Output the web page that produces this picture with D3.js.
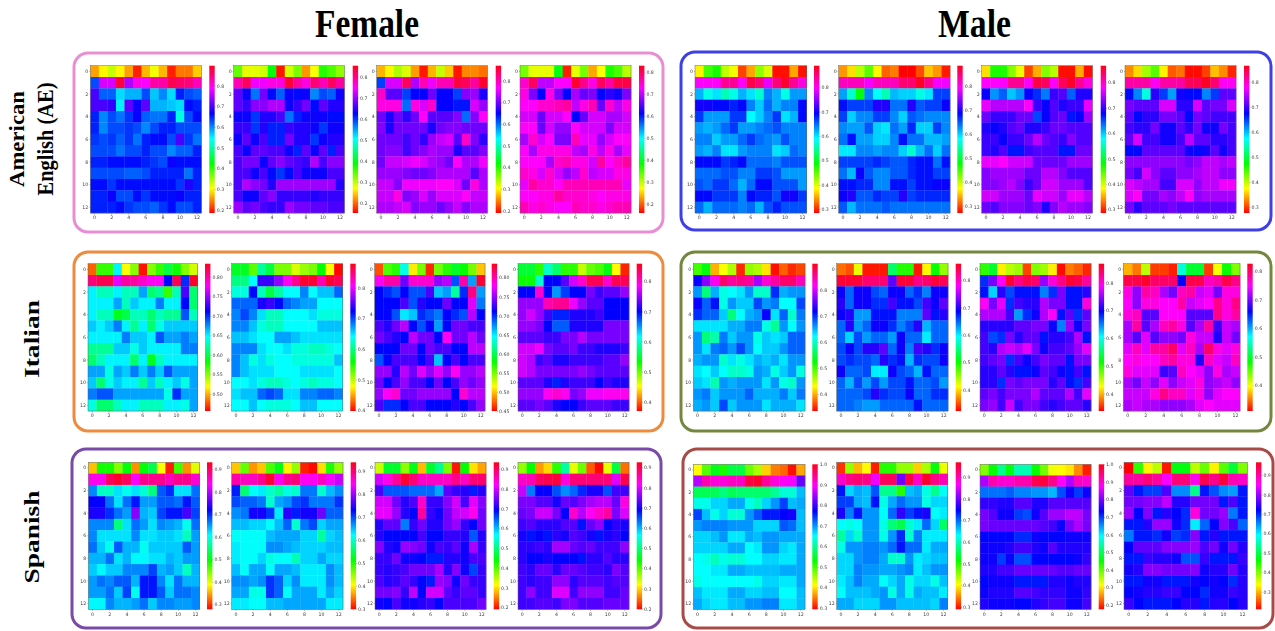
<!DOCTYPE html>
<html>
<head>
<meta charset="utf-8">
<script src="https://cdnjs.cloudflare.com/ajax/libs/d3/7.8.5/d3.min.js"></script>
<style>
  body { margin: 0; background: #fff; }
  #wrapper { width: 1275px; height: 631px; overflow: hidden; }
  svg { display: block; }
</style>
</head>
<body>
<div id="wrapper"></div>
<script>
// cell values (13 rows x 13 columns)
const aeF1 = [
[.26,.30,.33,.30,.26,.20,.27,.31,.27,.20,.24,.24,.28],
[.63,.77,.77,.88,.75,.80,.79,.83,.83,.87,.86,.85,.82],
[.70,.62,.62,.56,.58,.58,.63,.57,.60,.56,.65,.63,.62],
[.70,.70,.69,.55,.71,.67,.71,.58,.58,.57,.56,.66,.65],
[.65,.60,.63,.61,.64,.67,.62,.61,.61,.65,.53,.63,.66],
[.65,.60,.63,.63,.64,.63,.60,.63,.65,.65,.63,.63,.63],
[.64,.63,.64,.62,.64,.61,.65,.66,.66,.63,.70,.64,.61],
[.63,.63,.63,.61,.63,.63,.65,.63,.63,.60,.62,.62,.65],
[.65,.65,.66,.66,.66,.66,.65,.64,.63,.67,.66,.66,.66],
[.63,.63,.63,.63,.62,.62,.63,.65,.65,.65,.65,.61,.65],
[.66,.66,.64,.66,.66,.66,.66,.66,.66,.66,.64,.68,.65],
[.65,.65,.67,.63,.63,.66,.64,.66,.66,.66,.67,.65,.65],
[.65,.65,.65,.66,.64,.63,.63,.62,.64,.66,.63,.63,.65]];
const aeF2 = [
[.34,.28,.28,.29,.39,.16,.29,.33,.22,.27,.37,.35,.32],
[.78,.82,.74,.74,.76,.76,.84,.79,.76,.81,.78,.82,.79],
[.67,.63,.57,.68,.62,.58,.63,.62,.63,.56,.59,.58,.63],
[.67,.65,.69,.69,.71,.71,.63,.65,.68,.62,.67,.64,.64],
[.63,.63,.60,.64,.64,.66,.57,.61,.63,.63,.63,.62,.62],
[.65,.65,.60,.64,.61,.61,.65,.64,.64,.63,.60,.63,.63],
[.63,.67,.63,.66,.61,.61,.68,.64,.64,.60,.63,.64,.64],
[.66,.63,.67,.67,.66,.66,.63,.61,.67,.63,.67,.61,.66],
[.66,.68,.68,.63,.67,.69,.67,.66,.65,.71,.66,.69,.69],
[.66,.66,.63,.66,.62,.60,.62,.66,.63,.63,.63,.66,.66],
[.66,.71,.69,.68,.64,.70,.70,.70,.70,.70,.70,.70,.64],
[.66,.63,.63,.67,.69,.65,.65,.65,.65,.64,.65,.65,.65],
[.70,.67,.68,.66,.65,.65,.70,.68,.68,.67,.67,.66,.66]];
const aeF3 = [
[.27,.30,.34,.32,.26,.20,.27,.33,.28,.20,.25,.25,.24],
[.62,.75,.75,.84,.73,.80,.76,.80,.80,.85,.84,.81,.86],
[.79,.69,.69,.62,.65,.65,.70,.65,.65,.62,.71,.72,.66],
[.78,.78,.78,.60,.78,.75,.79,.65,.65,.64,.64,.75,.72],
[.70,.66,.70,.67,.70,.77,.69,.69,.69,.71,.60,.71,.77],
[.71,.66,.70,.70,.70,.70,.66,.70,.71,.71,.70,.70,.70],
[.70,.70,.70,.68,.70,.67,.72,.74,.75,.69,.79,.71,.67],
[.70,.71,.71,.68,.70,.71,.73,.72,.72,.66,.69,.69,.71],
[.70,.74,.74,.75,.76,.75,.73,.72,.70,.77,.73,.73,.76],
[.72,.72,.72,.71,.70,.70,.71,.73,.73,.73,.73,.69,.73],
[.74,.74,.71,.76,.76,.76,.76,.77,.77,.75,.70,.78,.73],
[.74,.74,.78,.71,.72,.75,.72,.75,.75,.75,.77,.74,.74],
[.73,.73,.74,.75,.71,.72,.72,.70,.72,.74,.71,.73,.73]];
const aeF4 = [
[.33,.28,.28,.28,.39,.17,.28,.33,.23,.27,.37,.35,.30],
[.75,.80,.70,.70,.73,.73,.82,.78,.74,.80,.77,.81,.81],
[.74,.67,.61,.74,.67,.61,.69,.66,.67,.61,.63,.62,.67],
[.73,.73,.75,.75,.76,.77,.70,.74,.76,.66,.75,.70,.74],
[.71,.71,.66,.71,.71,.73,.61,.66,.71,.71,.69,.69,.71],
[.73,.73,.66,.71,.68,.68,.73,.71,.71,.71,.67,.71,.71],
[.69,.75,.71,.73,.67,.67,.76,.72,.72,.68,.71,.73,.73],
[.73,.69,.74,.74,.74,.74,.70,.69,.74,.70,.74,.69,.72],
[.73,.73,.73,.69,.75,.76,.74,.74,.71,.77,.73,.75,.77],
[.75,.74,.71,.75,.71,.68,.70,.75,.70,.71,.71,.74,.74],
[.72,.77,.75,.75,.73,.76,.76,.76,.76,.76,.76,.76,.72],
[.73,.73,.74,.74,.77,.75,.75,.75,.74,.73,.74,.74,.74],
[.76,.74,.75,.74,.73,.73,.76,.75,.75,.74,.75,.76,.76]];
const aeM1 = [
[.38,.46,.48,.41,.39,.31,.35,.43,.40,.29,.29,.35,.29],
[.80,.80,.80,.84,.84,.80,.87,.85,.79,.85,.88,.84,.81],
[.62,.58,.60,.56,.58,.62,.60,.57,.64,.62,.58,.63,.63],
[.70,.70,.69,.69,.68,.69,.64,.61,.65,.62,.64,.64,.69],
[.67,.63,.63,.63,.67,.67,.59,.61,.64,.67,.60,.62,.69],
[.63,.62,.63,.65,.67,.63,.63,.64,.65,.66,.64,.64,.64],
[.64,.64,.61,.63,.63,.65,.67,.65,.64,.63,.66,.64,.64],
[.63,.62,.64,.60,.60,.63,.64,.64,.64,.60,.61,.65,.64],
[.69,.69,.69,.67,.68,.69,.65,.65,.65,.64,.66,.66,.66],
[.65,.65,.65,.66,.66,.64,.64,.67,.67,.66,.63,.63,.63],
[.66,.65,.67,.67,.65,.62,.65,.69,.69,.66,.66,.66,.63],
[.69,.69,.67,.67,.67,.64,.69,.68,.68,.66,.70,.70,.67],
[.65,.62,.65,.65,.65,.64,.65,.62,.66,.68,.66,.66,.66]];
const aeM2 = [
[.33,.36,.40,.44,.37,.31,.32,.27,.27,.30,.35,.33,.28],
[.82,.82,.82,.79,.82,.82,.82,.85,.85,.88,.84,.79,.79],
[.62,.56,.48,.63,.58,.55,.61,.60,.60,.57,.59,.66,.66],
[.68,.66,.66,.66,.70,.70,.64,.64,.70,.65,.66,.66,.69],
[.66,.60,.63,.63,.66,.66,.63,.60,.65,.64,.63,.63,.63],
[.63,.62,.62,.65,.60,.59,.64,.62,.67,.60,.60,.66,.63],
[.64,.68,.62,.62,.60,.60,.63,.68,.64,.64,.61,.61,.62],
[.59,.59,.63,.63,.62,.63,.63,.60,.56,.61,.64,.60,.64],
[.66,.66,.66,.66,.67,.66,.65,.65,.67,.68,.68,.64,.68],
[.64,.61,.69,.65,.63,.63,.65,.65,.67,.68,.68,.66,.66],
[.68,.68,.67,.67,.63,.63,.68,.68,.66,.68,.68,.69,.69],
[.69,.70,.65,.65,.67,.66,.66,.70,.66,.67,.67,.67,.67],
[.65,.61,.64,.64,.64,.65,.64,.64,.64,.64,.64,.64,.64]];
const aeM3 = [
[.37,.47,.47,.43,.39,.31,.35,.43,.41,.29,.29,.35,.29],
[.78,.78,.78,.82,.82,.78,.85,.84,.78,.84,.86,.82,.79],
[.68,.62,.64,.60,.62,.68,.66,.63,.70,.71,.64,.69,.69],
[.77,.75,.75,.75,.75,.78,.70,.68,.71,.69,.70,.70,.77],
[.72,.70,.70,.70,.72,.72,.65,.68,.71,.72,.67,.68,.74],
[.69,.68,.69,.71,.72,.69,.69,.70,.72,.72,.71,.71,.71],
[.70,.70,.68,.70,.70,.72,.75,.72,.71,.70,.73,.71,.71],
[.70,.69,.71,.67,.67,.70,.71,.71,.71,.67,.67,.72,.72],
[.77,.77,.78,.76,.76,.76,.72,.72,.72,.72,.74,.74,.74],
[.73,.74,.74,.74,.74,.72,.72,.75,.75,.73,.71,.71,.71],
[.73,.73,.74,.75,.73,.70,.72,.76,.76,.74,.74,.74,.71],
[.76,.76,.74,.74,.74,.72,.77,.76,.76,.74,.77,.77,.75],
[.72,.71,.73,.73,.73,.72,.73,.69,.73,.75,.74,.74,.73]];
const aeM4 = [
[.33,.36,.41,.44,.37,.31,.32,.28,.28,.30,.35,.33,.29],
[.81,.81,.81,.78,.81,.81,.81,.84,.84,.86,.83,.78,.78],
[.67,.62,.56,.69,.65,.61,.68,.67,.67,.62,.65,.71,.71],
[.72,.71,.71,.71,.76,.76,.69,.69,.76,.71,.72,.72,.76],
[.71,.67,.69,.69,.72,.72,.71,.67,.72,.71,.70,.70,.70],
[.70,.69,.69,.72,.68,.68,.71,.69,.72,.68,.68,.72,.70],
[.71,.76,.70,.70,.68,.68,.70,.75,.71,.71,.69,.69,.70],
[.67,.67,.71,.71,.71,.71,.71,.68,.67,.68,.71,.68,.70],
[.73,.73,.73,.73,.73,.73,.73,.72,.73,.75,.75,.74,.75],
[.72,.70,.76,.73,.71,.71,.73,.73,.74,.75,.75,.73,.73],
[.76,.75,.74,.74,.70,.70,.76,.76,.73,.75,.75,.77,.77],
[.76,.78,.72,.72,.74,.73,.75,.78,.73,.74,.74,.74,.74],
[.72,.69,.71,.71,.71,.72,.71,.71,.71,.71,.71,.71,.71]];
const itF1 = [
[.48,.57,.57,.65,.52,.55,.46,.55,.57,.60,.58,.55,.53],
[.81,.82,.82,.77,.80,.80,.79,.78,.78,.71,.82,.70,.83],
[.65,.63,.63,.65,.63,.63,.67,.61,.62,.57,.63,.73,.61],
[.65,.65,.65,.67,.63,.66,.65,.65,.68,.65,.65,.71,.61],
[.65,.63,.63,.59,.60,.63,.63,.61,.63,.62,.62,.69,.63],
[.66,.65,.66,.68,.65,.62,.65,.61,.64,.66,.66,.66,.66],
[.65,.65,.65,.65,.68,.66,.66,.65,.69,.67,.67,.68,.67],
[.62,.62,.62,.66,.66,.64,.66,.65,.65,.65,.65,.68,.68],
[.61,.63,.65,.65,.65,.61,.65,.59,.63,.65,.65,.65,.65],
[.67,.67,.64,.67,.66,.68,.66,.68,.66,.69,.67,.67,.67],
[.66,.61,.64,.66,.65,.65,.62,.66,.63,.65,.66,.64,.67],
[.68,.69,.69,.67,.67,.67,.67,.67,.67,.64,.70,.67,.67],
[.64,.61,.61,.63,.65,.65,.63,.63,.63,.65,.65,.64,.67]];
const itF2 = [
[.57,.57,.53,.61,.58,.52,.52,.49,.51,.52,.56,.48,.40],
[.60,.60,.64,.74,.74,.77,.81,.84,.87,.87,.83,.87,.86],
[.63,.63,.72,.62,.58,.61,.64,.64,.68,.64,.66,.66,.69],
[.69,.69,.69,.73,.74,.72,.69,.68,.67,.67,.64,.64,.64],
[.68,.70,.68,.65,.62,.62,.64,.64,.64,.65,.63,.63,.63],
[.68,.68,.66,.63,.62,.62,.64,.64,.64,.64,.66,.66,.66],
[.66,.66,.65,.64,.64,.67,.67,.66,.65,.65,.65,.65,.65],
[.68,.68,.68,.65,.64,.64,.65,.63,.63,.62,.62,.63,.64],
[.68,.66,.63,.65,.63,.64,.64,.63,.63,.63,.63,.63,.66],
[.68,.66,.65,.65,.65,.64,.64,.64,.65,.65,.65,.65,.64],
[.64,.64,.65,.63,.62,.62,.63,.64,.63,.62,.63,.63,.64],
[.65,.66,.66,.69,.70,.69,.65,.65,.68,.68,.69,.69,.68],
[.64,.64,.66,.64,.63,.63,.63,.64,.66,.66,.64,.64,.64]];
const itF3 = [
[.47,.56,.57,.64,.51,.55,.46,.55,.57,.59,.58,.55,.50],
[.78,.80,.80,.74,.79,.79,.79,.75,.76,.69,.80,.67,.83],
[.71,.70,.69,.71,.69,.69,.73,.66,.67,.62,.70,.81,.67],
[.71,.71,.71,.73,.69,.72,.71,.71,.74,.71,.71,.77,.68],
[.71,.71,.69,.65,.66,.70,.69,.68,.71,.70,.69,.76,.71],
[.73,.72,.74,.76,.71,.69,.71,.67,.71,.74,.74,.73,.73],
[.74,.73,.72,.71,.76,.74,.74,.71,.78,.74,.74,.76,.74],
[.71,.71,.71,.74,.74,.71,.74,.73,.73,.71,.71,.76,.76],
[.69,.71,.73,.73,.73,.71,.73,.66,.71,.73,.71,.73,.73],
[.75,.75,.72,.76,.74,.77,.75,.77,.75,.78,.75,.75,.76],
[.74,.71,.73,.75,.73,.73,.71,.74,.71,.73,.75,.74,.75],
[.75,.78,.79,.74,.74,.75,.75,.75,.75,.71,.79,.76,.76],
[.73,.70,.70,.71,.73,.73,.71,.71,.71,.72,.71,.73,.75]];
const itF4 = [
[.55,.55,.52,.60,.57,.52,.52,.47,.50,.51,.54,.45,.38],
[.53,.53,.60,.70,.70,.73,.77,.80,.84,.84,.80,.84,.84],
[.70,.70,.80,.70,.65,.68,.70,.70,.74,.72,.73,.73,.75],
[.75,.75,.75,.81,.82,.82,.78,.75,.73,.73,.70,.70,.70],
[.75,.77,.75,.72,.69,.69,.71,.71,.71,.72,.70,.70,.70],
[.75,.75,.74,.70,.67,.67,.71,.71,.71,.71,.74,.74,.74],
[.73,.73,.73,.72,.72,.74,.74,.76,.74,.74,.74,.74,.74],
[.77,.77,.78,.74,.73,.73,.74,.72,.72,.71,.71,.71,.72],
[.77,.76,.72,.73,.71,.71,.72,.72,.72,.72,.73,.73,.75],
[.77,.76,.74,.74,.74,.74,.74,.75,.74,.73,.73,.73,.73],
[.73,.73,.73,.71,.69,.71,.72,.72,.72,.70,.72,.71,.71],
[.75,.75,.75,.79,.80,.79,.74,.75,.78,.78,.79,.79,.79],
[.73,.73,.74,.73,.71,.70,.70,.72,.73,.73,.73,.72,.72]];
const itM1 = [
[.50,.53,.40,.43,.46,.35,.47,.46,.42,.34,.37,.35,.36],
[.72,.77,.82,.87,.85,.86,.85,.78,.83,.85,.87,.87,.84],
[.66,.57,.65,.61,.62,.63,.66,.60,.60,.70,.65,.66,.66],
[.72,.68,.71,.61,.66,.64,.64,.69,.66,.67,.62,.62,.69],
[.70,.68,.68,.64,.57,.62,.65,.66,.72,.63,.68,.60,.67],
[.63,.63,.63,.63,.65,.65,.67,.67,.61,.58,.66,.62,.66],
[.66,.57,.59,.67,.64,.66,.66,.61,.64,.63,.64,.68,.68],
[.66,.63,.67,.68,.66,.69,.66,.62,.64,.64,.66,.68,.68],
[.65,.66,.66,.60,.63,.61,.63,.65,.64,.65,.63,.66,.66],
[.63,.62,.64,.62,.60,.60,.61,.66,.65,.61,.64,.66,.61],
[.64,.63,.59,.66,.65,.66,.66,.66,.63,.66,.61,.60,.66],
[.66,.67,.64,.66,.66,.66,.68,.65,.65,.65,.67,.64,.67],
[.65,.66,.64,.69,.64,.66,.66,.66,.63,.65,.65,.65,.63]];
const itM2 = [
[.36,.35,.42,.33,.33,.33,.54,.49,.49,.33,.41,.50,.45],
[.85,.85,.85,.83,.83,.83,.72,.85,.85,.82,.83,.85,.84],
[.69,.65,.69,.69,.66,.65,.69,.69,.65,.67,.64,.69,.69],
[.70,.65,.69,.69,.67,.67,.71,.68,.68,.66,.71,.69,.72],
[.69,.70,.63,.63,.68,.68,.68,.64,.64,.64,.72,.68,.70],
[.65,.70,.63,.65,.69,.69,.67,.64,.66,.70,.62,.65,.65],
[.65,.61,.66,.63,.65,.65,.63,.69,.65,.65,.60,.65,.65],
[.66,.69,.66,.70,.70,.72,.65,.69,.64,.71,.70,.67,.69],
[.66,.67,.66,.66,.65,.70,.67,.68,.62,.67,.66,.66,.69],
[.69,.65,.65,.66,.60,.60,.69,.66,.65,.62,.68,.65,.65],
[.65,.62,.66,.63,.66,.63,.66,.66,.68,.65,.65,.66,.63],
[.65,.65,.65,.66,.70,.67,.66,.66,.69,.65,.65,.67,.67],
[.65,.65,.64,.63,.63,.65,.65,.65,.65,.68,.65,.65,.65]];
const itM3 = [
[.50,.53,.42,.45,.46,.36,.47,.46,.42,.34,.38,.37,.35],
[.68,.74,.79,.86,.83,.85,.84,.75,.80,.83,.86,.85,.82],
[.69,.62,.71,.67,.69,.69,.69,.65,.68,.74,.69,.69,.71],
[.79,.74,.78,.68,.72,.71,.71,.76,.74,.74,.69,.69,.80],
[.76,.76,.76,.72,.64,.68,.70,.76,.79,.69,.73,.68,.73],
[.71,.71,.71,.71,.73,.73,.74,.74,.70,.65,.75,.70,.74],
[.72,.67,.68,.74,.71,.73,.73,.69,.71,.71,.72,.76,.69],
[.72,.71,.76,.77,.76,.78,.74,.70,.72,.72,.73,.75,.78],
[.72,.73,.74,.68,.72,.70,.72,.74,.73,.73,.69,.74,.74],
[.71,.71,.73,.71,.69,.69,.70,.73,.72,.70,.69,.72,.69],
[.71,.71,.68,.74,.73,.74,.74,.74,.71,.73,.69,.68,.72],
[.73,.74,.72,.74,.74,.74,.76,.73,.73,.73,.76,.72,.78],
[.74,.75,.72,.77,.72,.74,.74,.72,.71,.72,.73,.73,.71]];
const itM4 = [
[.37,.35,.42,.33,.33,.32,.56,.50,.50,.33,.40,.48,.44],
[.81,.81,.82,.80,.80,.80,.66,.81,.81,.77,.78,.81,.79],
[.76,.71,.78,.77,.72,.70,.77,.78,.73,.74,.70,.76,.76],
[.75,.71,.76,.76,.75,.75,.78,.73,.74,.75,.79,.76,.79],
[.76,.77,.69,.69,.75,.75,.75,.69,.69,.69,.79,.76,.78],
[.72,.78,.69,.72,.77,.78,.76,.69,.72,.78,.68,.73,.72],
[.72,.69,.74,.69,.71,.71,.70,.76,.73,.73,.67,.73,.70],
[.74,.77,.74,.78,.78,.80,.74,.77,.72,.80,.76,.74,.76],
[.75,.76,.75,.75,.77,.78,.76,.76,.67,.77,.74,.73,.77],
[.76,.74,.74,.74,.68,.69,.77,.75,.74,.71,.76,.72,.73],
[.72,.70,.73,.71,.74,.71,.73,.74,.76,.71,.72,.73,.71],
[.73,.73,.73,.76,.79,.77,.77,.74,.76,.71,.74,.75,.75],
[.72,.73,.72,.72,.71,.71,.71,.72,.74,.75,.74,.74,.74]];
const spF1 = [
[.36,.49,.49,.44,.50,.34,.50,.53,.39,.29,.47,.34,.40],
[.84,.84,.90,.92,.90,.83,.88,.88,.88,.86,.88,.88,.85],
[.66,.58,.58,.62,.60,.62,.59,.55,.68,.70,.62,.62,.67],
[.72,.72,.67,.62,.67,.71,.65,.65,.68,.68,.67,.71,.68],
[.73,.73,.70,.67,.65,.78,.64,.63,.69,.71,.71,.75,.69],
[.66,.66,.66,.55,.62,.67,.65,.62,.66,.65,.64,.60,.67],
[.66,.62,.62,.62,.62,.66,.62,.62,.63,.63,.62,.58,.65],
[.67,.63,.60,.68,.64,.64,.60,.63,.63,.63,.63,.68,.65],
[.64,.64,.67,.62,.64,.61,.61,.62,.62,.64,.63,.65,.65],
[.63,.61,.63,.63,.66,.66,.66,.69,.64,.65,.63,.58,.64],
[.65,.67,.66,.68,.68,.64,.71,.71,.66,.62,.67,.64,.64],
[.65,.65,.67,.63,.69,.60,.71,.71,.68,.63,.67,.67,.66],
[.61,.61,.66,.64,.64,.65,.67,.63,.66,.66,.65,.65,.66]];
const spF2 = [
[.38,.47,.36,.38,.48,.52,.40,.45,.31,.30,.39,.50,.45],
[.88,.87,.87,.89,.93,.85,.89,.90,.85,.85,.87,.84,.82],
[.72,.56,.62,.63,.60,.58,.61,.60,.68,.68,.60,.65,.67],
[.70,.69,.69,.68,.60,.66,.67,.70,.71,.68,.68,.68,.71],
[.67,.68,.74,.74,.71,.63,.75,.72,.74,.74,.78,.69,.69],
[.65,.65,.64,.64,.62,.65,.69,.60,.68,.70,.64,.66,.66],
[.62,.62,.62,.62,.65,.66,.66,.66,.64,.64,.58,.64,.65],
[.63,.62,.62,.62,.67,.67,.66,.65,.64,.64,.64,.65,.65],
[.63,.62,.62,.64,.61,.62,.62,.59,.64,.64,.66,.64,.64],
[.65,.62,.66,.66,.62,.66,.66,.65,.63,.63,.63,.67,.65],
[.67,.67,.66,.67,.71,.69,.64,.67,.63,.63,.63,.67,.65],
[.66,.66,.61,.61,.71,.69,.62,.66,.66,.66,.63,.66,.64],
[.63,.63,.62,.62,.65,.65,.66,.66,.66,.66,.66,.63,.63]];
const spF3 = [
[.34,.46,.46,.37,.45,.28,.46,.51,.38,.20,.44,.30,.27],
[.80,.83,.87,.92,.89,.85,.85,.85,.85,.88,.85,.89,.89],
[.73,.65,.65,.65,.64,.64,.64,.61,.74,.72,.71,.68,.71],
[.80,.80,.75,.71,.73,.85,.72,.72,.76,.80,.73,.81,.76],
[.81,.81,.77,.71,.69,.87,.72,.70,.75,.79,.80,.83,.75],
[.71,.74,.74,.63,.72,.75,.71,.71,.75,.77,.72,.69,.75],
[.71,.69,.69,.69,.69,.73,.69,.69,.72,.72,.71,.65,.71],
[.76,.71,.70,.77,.76,.75,.70,.73,.72,.74,.70,.78,.72],
[.72,.72,.75,.70,.70,.69,.68,.68,.71,.71,.70,.73,.73],
[.72,.71,.72,.73,.75,.75,.75,.78,.71,.76,.70,.66,.72],
[.73,.71,.72,.74,.72,.69,.68,.77,.76,.70,.75,.72,.72],
[.75,.75,.76,.72,.79,.69,.80,.80,.74,.72,.74,.74,.72],
[.70,.69,.73,.70,.70,.71,.72,.69,.73,.73,.73,.73,.75]];
const spF4 = [
[.37,.44,.27,.30,.42,.52,.33,.39,.24,.20,.33,.47,.25],
[.84,.85,.89,.90,.91,.83,.88,.88,.88,.88,.88,.80,.90],
[.79,.63,.69,.69,.65,.62,.64,.67,.70,.70,.65,.72,.72],
[.75,.75,.73,.73,.70,.74,.73,.75,.77,.78,.78,.74,.83],
[.74,.75,.79,.79,.75,.69,.84,.78,.82,.84,.86,.75,.80],
[.72,.73,.71,.71,.71,.73,.73,.68,.74,.76,.69,.71,.70],
[.70,.68,.69,.68,.71,.70,.73,.72,.70,.68,.70,.71,.69],
[.71,.71,.72,.71,.77,.77,.74,.73,.74,.72,.72,.72,.76],
[.71,.69,.69,.70,.69,.69,.69,.68,.71,.71,.73,.71,.71],
[.72,.71,.74,.74,.71,.74,.74,.73,.72,.72,.71,.75,.73],
[.72,.71,.72,.72,.76,.76,.71,.73,.73,.73,.72,.73,.73],
[.72,.76,.72,.72,.80,.80,.72,.76,.76,.76,.72,.72,.74],
[.72,.72,.73,.73,.72,.75,.75,.73,.73,.73,.74,.74,.74]];
const spM1 = [
[.41,.49,.54,.52,.56,.56,.48,.45,.39,.35,.34,.30,.37],
[.86,.93,.91,.91,.92,.92,.98,.99,.94,.91,.90,.89,.82],
[.57,.57,.57,.59,.57,.58,.58,.58,.58,.60,.63,.63,.68],
[.64,.64,.67,.67,.69,.69,.64,.62,.67,.70,.74,.68,.69],
[.74,.68,.64,.67,.63,.63,.70,.73,.76,.76,.77,.78,.68],
[.70,.71,.71,.71,.70,.70,.70,.67,.67,.67,.73,.72,.68],
[.67,.67,.68,.70,.66,.66,.69,.68,.70,.70,.69,.69,.69],
[.67,.67,.67,.67,.69,.69,.65,.66,.70,.70,.67,.66,.69],
[.65,.64,.62,.64,.63,.63,.65,.65,.67,.67,.66,.66,.69],
[.65,.65,.66,.66,.69,.69,.68,.68,.68,.68,.69,.69,.69],
[.64,.65,.65,.65,.65,.65,.65,.64,.67,.67,.66,.66,.69],
[.68,.66,.66,.66,.69,.69,.67,.67,.68,.68,.65,.65,.68],
[.69,.67,.66,.66,.68,.68,.70,.70,.71,.71,.66,.66,.68]];
const spM2 = [
[.31,.45,.37,.40,.30,.50,.50,.45,.45,.38,.44,.52,.41],
[.89,.92,.93,.92,.86,.94,.94,.80,.95,.89,.96,.92,.90],
[.74,.65,.67,.66,.71,.58,.58,.50,.66,.67,.62,.58,.63],
[.72,.72,.67,.66,.74,.62,.67,.70,.68,.68,.62,.65,.65],
[.76,.69,.74,.68,.68,.63,.70,.77,.72,.74,.76,.63,.64],
[.63,.62,.63,.68,.68,.62,.57,.55,.61,.64,.70,.65,.56],
[.59,.65,.61,.68,.68,.62,.68,.73,.61,.69,.64,.64,.64],
[.62,.68,.68,.69,.69,.68,.70,.74,.70,.70,.64,.67,.67],
[.65,.65,.68,.69,.69,.67,.61,.61,.68,.64,.65,.66,.66],
[.65,.65,.69,.68,.68,.67,.67,.68,.69,.64,.66,.68,.68],
[.64,.66,.69,.67,.67,.63,.65,.67,.62,.65,.65,.62,.66],
[.63,.66,.66,.66,.67,.68,.62,.67,.62,.67,.66,.66,.64],
[.67,.67,.65,.65,.65,.68,.68,.66,.66,.66,.66,.65,.69]];
const spM3 = [
[.38,.45,.53,.46,.55,.55,.45,.39,.32,.31,.30,.25,.19],
[.83,.92,.90,.90,.92,.92,.97,.98,.94,.88,.83,.91,.90],
[.67,.67,.67,.68,.66,.66,.65,.65,.63,.69,.74,.70,.74],
[.76,.76,.75,.75,.78,.78,.75,.75,.78,.78,.78,.78,.78],
[.80,.78,.74,.74,.70,.69,.74,.78,.82,.82,.84,.84,.80],
[.80,.79,.79,.79,.79,.79,.79,.78,.77,.74,.80,.83,.80],
[.73,.73,.73,.73,.71,.71,.74,.73,.73,.73,.74,.74,.74],
[.74,.74,.74,.75,.77,.77,.75,.74,.78,.75,.75,.75,.75],
[.74,.74,.70,.74,.69,.69,.73,.73,.73,.73,.73,.74,.76],
[.75,.75,.77,.77,.79,.79,.79,.79,.79,.78,.78,.79,.79],
[.73,.74,.74,.74,.72,.72,.72,.72,.75,.75,.74,.75,.75],
[.74,.75,.75,.75,.78,.78,.77,.76,.76,.76,.74,.74,.76],
[.75,.74,.74,.74,.73,.73,.75,.76,.77,.77,.74,.74,.77]];
const spM4 = [
[.21,.44,.33,.37,.22,.47,.47,.37,.41,.33,.42,.49,.40],
[.90,.90,.92,.90,.85,.92,.92,.86,.94,.91,.95,.89,.88],
[.77,.71,.69,.69,.76,.65,.65,.53,.71,.68,.65,.64,.71],
[.78,.78,.79,.79,.82,.74,.74,.78,.78,.78,.71,.76,.71],
[.80,.72,.79,.71,.74,.72,.70,.87,.78,.78,.80,.66,.71],
[.71,.71,.74,.80,.80,.73,.70,.60,.67,.72,.79,.76,.67],
[.66,.71,.71,.70,.73,.69,.70,.79,.71,.74,.71,.71,.71],
[.72,.77,.77,.77,.79,.79,.79,.80,.76,.78,.73,.78,.74],
[.71,.71,.75,.74,.74,.73,.68,.68,.75,.71,.71,.71,.75],
[.73,.74,.79,.79,.78,.78,.78,.79,.73,.74,.74,.78,.74],
[.71,.71,.73,.73,.71,.71,.71,.73,.72,.73,.72,.70,.74],
[.72,.73,.74,.74,.75,.75,.72,.72,.70,.73,.73,.75,.74],
[.75,.72,.71,.71,.71,.72,.74,.74,.71,.74,.74,.72,.74]];

// colour limits of each colorbar
const vMin = [.185,.151,.19,.157, .284,.27,.285,.276, .456,.398,.45,.369, .335,.322,.337,.31, .278,.297,.19,.197, .293,.288,.175,.209];
const vMax = [.896,.852,.869,.83, .889,.886,.866,.864, .834,.878,.836,.859, .90,.861,.868,.827, .93,.94,.934,.925, 1.0,.969,1.0,.967];

const ticks28 = [.2,.3,.4,.5,.6,.7,.8];
const ticks38 = [.3,.4,.5,.6,.7,.8];
const ticks48 = [.4,.5,.6,.7,.8];
const ticksFine50 = [.5,.55,.6,.65,.7,.75,.8];
const ticksFine45 = [.45,.5,.55,.6,.65,.7,.75,.8];
const ticks39 = [.3,.4,.5,.6,.7,.8,.9];
const ticks29 = [.2,.3,.4,.5,.6,.7,.8,.9];
const ticks310 = [.3,.4,.5,.6,.7,.8,.9,1];
const ticks210 = [.2,.3,.4,.5,.6,.7,.8,.9,1];

const grids = [aeF1,aeF2,aeF3,aeF4, aeM1,aeM2,aeM3,aeM4, itF1,itF2,itF3,itF4, itM1,itM2,itM3,itM4, spF1,spF2,spF3,spF4, spM1,spM2,spM3,spM4];
const barTicks = [ticks28,ticks28,ticks28,ticks28, ticks38,ticks38,ticks38,ticks38,
  ticksFine50,ticks48,ticksFine45,ticks48, ticks48,ticks48,ticks48,ticks48,
  ticks39,ticks39,ticks29,ticks29, ticks310,ticks39,ticks210,ticks39];

const titles = ["Female", "Male"];
const rowLabels = [["American", "English (AE)"], ["Italian"], ["Spanish"]];

// layout: left/right of every heatmap, left of every colorbar, top/bottom of every group
const mapLeft = [90.3,233.7,376.7,520, 695,838.7,981.7,1125, 88,231.7,374.7,518, 693.3,836.7,980,1123.3, 88.3,231.7,375,518, 693.3,836.7,980,1124];
const mapRight = [201.3,344.3,487.3,631, 806.7,950,1092.3,1236, 197.7,342.7,485,629, 805,948,1091,1240, 199.7,343,486,629, 805,947.7,1091,1247.3];
const barLeft = [209.3,352.7,495.7,639, 814,957.3,1100.7,1244, 205,350.3,491.7,636.7, 812.3,955.7,1098.7,1247.3, 207,350.7,493.7,636.7, 812.3,955.7,1098.7,1256];
const mapTop = [65.7,65.7,65.7,65.7, 65.7,65.7,65.7,65.7, 263.7,263.7,263.7,263.7, 263.7,263.7,263.7,263.7, 462.3,462.3,462.3,462.3, 464.3,462.3,464.3,462.3];
const mapBottom = [213,213,213,213, 213,213,213,213, 411,411,411,411, 411,411,411,411, 609.3,609.3,609.3,609.3, 609.3,609.3,609.3,609.3];
const boxes = [
  {x0: 74, x1: 663, y0: 53, y1: 232, color: "#e88fd3"},
  {x0: 681, x1: 1271, y0: 52, y1: 230, color: "#3f3fe8"},
  {x0: 74, x1: 663, y0: 252, y1: 431, color: "#ee8b3e"},
  {x0: 681, x1: 1271, y0: 252, y1: 431, color: "#74873f"},
  {x0: 72, x1: 661, y0: 449, y1: 628, color: "#7a4ba6"},
  {x0: 683, x1: 1273, y0: 449, y1: 628, color: "#a84b48"},
];

const width = 1275, height = 631;
const barWidth = 5.4;

// matplotlib hsv, low values red, going round to red again
const hsvStops = [0, .167, .335, .505, .675, .85, 1];
const hsvColors = ["#ff0000","#ffff00","#00ff00","#00ffff","#0000ff","#ff00ff","#ff0018"];
const hsv = d3.scaleLinear().domain(hsvStops).range(hsvColors).interpolate(d3.interpolateRgb);

const wrapper = d3.select("#wrapper")
  .append("svg")
  .attr("width", width)
  .attr("height", height);

const defs = wrapper.append("defs");
const grad = defs.append("linearGradient")
  .attr("id", "hsvBar")
  .attr("x1", 0).attr("x2", 0).attr("y1", 1).attr("y2", 0);
hsvStops.forEach((s, i) => {
  grad.append("stop").attr("offset", s).attr("stop-color", hsvColors[i]);
});

wrapper.append("g").selectAll("rect")
  .data(boxes)
  .join("rect")
  .attr("x", d => d.x0)
  .attr("y", d => d.y0)
  .attr("width", d => d.x1 - d.x0)
  .attr("height", d => d.y1 - d.y0)
  .attr("rx", 14)
  .attr("fill", "none")
  .attr("stroke", d => d.color)
  .attr("stroke-width", 3);

// the source is a blurry screenshot, so the cells get softened, the small text only a bit
const cellLayer = wrapper.append("g").style("filter", "blur(0.7px)");
const axisLayer = wrapper.append("g").style("filter", "blur(0.25px)");

grids.forEach((grid, i) => {
  const x = d3.scaleBand().domain(d3.range(13)).range([mapLeft[i], mapRight[i]]);
  const y = d3.scaleBand().domain(d3.range(13)).range([mapTop[i], mapBottom[i]]);
  const color = v => hsv((v - vMin[i]) / (vMax[i] - vMin[i]));

  const cells = [];
  grid.forEach((row, r) => row.forEach((v, c) => cells.push({r, c, v})));

  cellLayer.append("g").selectAll("rect")
    .data(cells)
    .join("rect")
    .attr("x", d => x(d.c))
    .attr("y", d => y(d.r))
    .attr("width", x.bandwidth() + .3)
    .attr("height", y.bandwidth() + .3)
    .attr("fill", d => color(d.v));

  // colorbar
  const bar = d3.scaleLinear().domain([vMin[i], vMax[i]]).range([mapBottom[i], mapTop[i]]);
  cellLayer.append("rect")
    .attr("x", barLeft[i]).attr("y", mapTop[i])
    .attr("width", barWidth)
    .attr("height", mapBottom[i] - mapTop[i])
    .attr("fill", "url(#hsvBar)");

  const panel = axisLayer.append("g");
  panel.append("rect")
    .attr("x", mapLeft[i]).attr("y", mapTop[i])
    .attr("width", mapRight[i] - mapLeft[i])
    .attr("height", mapBottom[i] - mapTop[i])
    .attr("fill", "none")
    .attr("stroke", "#666")
    .attr("stroke-width", .5);

  const xAxis = panel.append("g")
    .attr("transform", `translate(0, ${mapBottom[i]})`)
    .call(d3.axisBottom(x).tickValues(d3.range(0, 13, 2)).tickSize(1.5).tickPadding(1.5));
  const yAxis = panel.append("g")
    .attr("transform", `translate(${mapLeft[i]}, 0)`)
    .call(d3.axisLeft(y).tickValues(d3.range(0, 13, 2)).tickSize(1).tickPadding(1));

  const fine = barTicks[i] === ticksFine50 || barTicks[i] === ticksFine45;
  const barAxis = panel.append("g")
    .attr("transform", `translate(${barLeft[i] + barWidth}, 0)`)
    .call(d3.axisRight(bar).tickValues(barTicks[i]).tickFormat(d3.format(fine ? ".2f" : ".1f")).tickSize(1).tickPadding(1));

  [xAxis, yAxis, barAxis].forEach(a => {
    a.select(".domain").remove();
    a.selectAll("text").attr("font-family", "DejaVu Sans").attr("font-size", 4.7).attr("fill", "#444");
    a.selectAll("line").attr("stroke", "#666").attr("stroke-width", .5);
  });
});

wrapper.append("g").selectAll("text")
  .data(titles)
  .join("text")
  .attr("x", (d, i) => i === 0 ? 315 : 938)
  .attr("y", 37)
  .attr("textLength", (d, i) => i === 0 ? 104 : 73)
  .attr("lengthAdjust", "spacingAndGlyphs")
  .attr("font-family", "Liberation Serif")
  .attr("font-weight", "bold")
  .attr("font-size", 40)
  .text(d => d);

const labelX = [[24, 53], [39], [39]];
const labelY = [139, 339, 537];
const labelLen = [[96, 113], [78], [93]];
const labelSize = [[22, 23], [22], [22]];
rowLabels.forEach((lines, r) => {
  lines.forEach((line, l) => {
    wrapper.append("text")
      .attr("transform", `translate(${labelX[r][l]}, ${labelY[r]}) rotate(-90)`)
      .attr("text-anchor", "middle")
      .attr("textLength", labelLen[r][l])
      .attr("lengthAdjust", "spacingAndGlyphs")
      .attr("font-family", "Liberation Serif")
      .attr("font-weight", "bold")
      .attr("font-size", labelSize[r][l])
      .text(line);
  });
});
</script>
</body>
</html>
